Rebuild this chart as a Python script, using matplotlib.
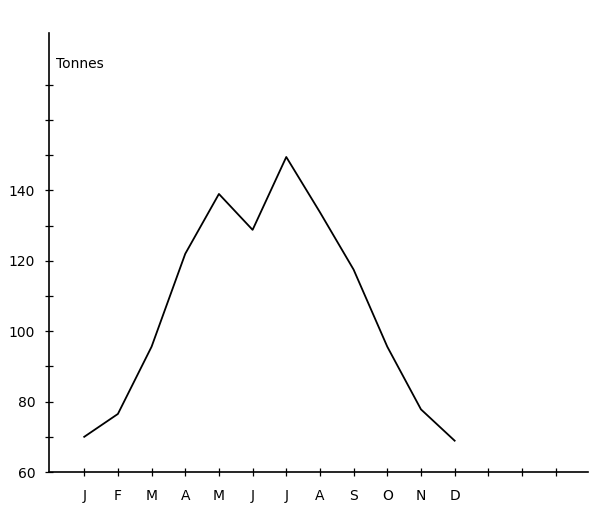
#monthly tonnage chart, hand drawn style
import numpy as np
import matplotlib.pyplot as plt

#months
months = ['J', 'F', 'M', 'A', 'M', 'J', 'J', 'A', 'S', 'O', 'N', 'D']

#tonnes per month
tonnes = [70, 76.5, 95.6, 122, 139, 128.8, 149.5, 133.8, 117.5, 95.6, 77.8, 68.9]

#y tick labels
ylabels = [60, 80, 100, 120, 140]

fig = plt.figure(figsize=(6, 5.17), dpi=100)
ax = fig.add_axes([0.082, 0.087, 0.898, 0.849])

x = np.arange(len(months))
ax.plot(x, tonnes, color='black', linewidth=1.3)

ax.set_xlim(-1.04, 14.96)
ax.set_ylim(60, 184.7)

for s in ['top', 'right']:
    ax.spines[s].set_visible(False)
ax.spines['left'].set_linewidth(1.2)
ax.spines['bottom'].set_linewidth(1.2)

#x ticks, extra ones beyond december
ax.set_xticks(np.arange(15))
ax.set_xticklabels(months + ['', '', ''])
ax.tick_params(axis='x', direction='inout', length=6, width=0.9, pad=9, labelsize=10)

#y ticks every 10, labels every 20 up to 140
ax.set_yticks(np.arange(60, 171, 10))
ax.set_yticklabels([str(v) if v in ylabels else '' for v in range(60, 171, 10)])
ax.tick_params(axis='y', direction='inout', length=6, width=0.9, pad=7, labelsize=10)

ax.text(0.012, 0.93, 'Tonnes', transform=ax.transAxes, fontsize=10, ha='left', va='center')

plt.savefig('out.png', dpi=100)
